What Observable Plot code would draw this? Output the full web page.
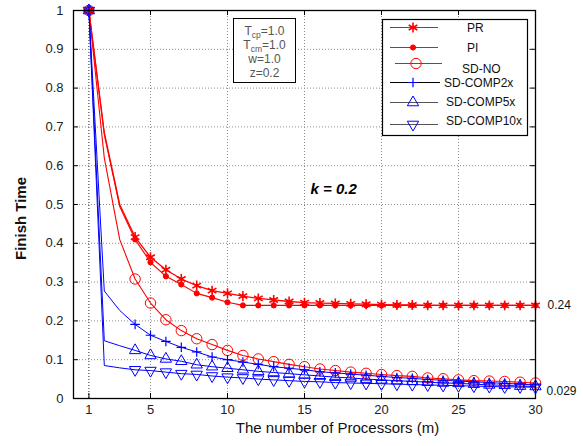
<!DOCTYPE html>
<html><head><meta charset="utf-8">
<script src="https://cdn.jsdelivr.net/npm/d3@7"></script>
<script src="https://cdn.jsdelivr.net/npm/@observablehq/plot@0.6"></script>
<style>body{margin:0;background:#fff} svg{display:block}</style>
</head><body><div id="chart"></div>
<script>
// ---- data ----
const processors = [1,2,3,4,5,6,7,8,9,10,11,12,13,14,15,16,17,18,19,20,21,22,23,24,25,26,27,28,29,30];
const seriesNames = ["PR","PI","SD-NO","SD-COMP2x","SD-COMP5x","SD-COMP10x"];
const PR    = [1.0,0.685,0.50,0.416,0.364,0.332,0.308,0.291,0.278,0.271,0.264,0.258,0.254,0.250,0.247,0.246,0.245,0.244,0.243,0.242,0.241,0.241,0.240,0.240,0.240,0.240,0.240,0.240,0.240,0.240];
const PI    = [1.0,0.68,0.495,0.41,0.351,0.315,0.294,0.271,0.26,0.248,0.240,0.240,0.240,0.240,0.240,0.240,0.240,0.240,0.240,0.240,0.240,0.240,0.240,0.240,0.240,0.240,0.240,0.240,0.240,0.240];
const SDNO  = [1.0,0.62,0.41,0.308,0.246,0.203,0.175,0.154,0.139,0.124,0.111,0.102,0.095,0.088,0.082,0.076,0.072,0.068,0.065,0.062,0.059,0.057,0.053,0.051,0.048,0.046,0.045,0.044,0.042,0.040];
const SDC2  = [1.0,0.277,0.227,0.191,0.163,0.147,0.132,0.12,0.107,0.1,0.094,0.088,0.082,0.078,0.074,0.069,0.066,0.063,0.06,0.057,0.054,0.052,0.049,0.047,0.045,0.043,0.041,0.039,0.037,0.035];
const SDC5  = [1.0,0.149,0.136,0.124,0.111,0.102,0.096,0.087,0.082,0.078,0.074,0.07,0.067,0.064,0.061,0.058,0.055,0.053,0.05,0.048,0.046,0.044,0.042,0.04,0.039,0.037,0.035,0.034,0.032,0.031];
const SDC10 = [1.0,0.085,0.079,0.074,0.072,0.068,0.064,0.062,0.058,0.055,0.053,0.05,0.048,0.046,0.044,0.043,0.041,0.040,0.039,0.038,0.037,0.036,0.035,0.034,0.033,0.032,0.031,0.030,0.030,0.029];
const seriesValues = [PR, PI, SDNO, SDC2, SDC5, SDC10];
const xTicks = [1,5,10,15,20,25,30];
const yTicks = [0,0.1,0.2,0.3,0.4,0.5,0.6,0.7,0.8,0.9,1];
const xLabel = "The number of Processors (m)";
const yLabel = "Finish Time";
const kLabel = "k = 0.2";
const paramLines = [["T","cp","=1.0"],["T","cm","=1.0"],["w","","=1.0"],["z","","=0.2"]];
const endLabelPI = "0.24";
const endLabelC10 = "0.029";

// ---- styles ----
const RED = "#ff0000", BLUE = "#0000ff";
const styles = {
  "PR":        {color: RED,  symbol: "asterisk", r: 4.7, fill: "none", sw: 1.6, lw: 1.3},
  "PI":        {color: RED,  symbol: "circle",   r: 2.6, fill: RED,    sw: 1,   lw: 1.1},
  "SD-NO":     {color: RED,  symbol: "circle",   r: 5.2, fill: "none", sw: 1,   lw: 1.1},
  "SD-COMP2x": {color: BLUE, symbol: "plus",     r: 3.2, fill: "none", sw: 1.2, lw: 1},
  "SD-COMP5x": {color: BLUE, symbol: "triangle", r: 4.2, fill: "none", sw: 1,   lw: 1},
  "SD-COMP10x":{color: BLUE, symbol: "triangle", r: 4.2, fill: "none", sw: 1,   lw: 1, rotate: 180}
};

const rows = [];
seriesNames.forEach((s, i) => processors.forEach((m, j) => rows.push({s, m, v: seriesValues[i][j]})));

const W = 583, H = 446, ML = 73, MR = 48, MT = 10, MB = 48;
const FONT = "'Liberation Sans', Arial, Helvetica, sans-serif";

const marks = [
  Plot.gridX(xTicks.filter(d => d !== 1 && d !== 30), {stroke: "#8a8a8a", strokeOpacity: 1, strokeDasharray: "1,2"}),
  Plot.gridX([1], {stroke: "#222", strokeOpacity: 1, strokeDasharray: "1,2"}),
  Plot.gridY(yTicks.filter(d => d > 0 && d < 1), {stroke: "#8a8a8a", strokeOpacity: 1, strokeDasharray: "1,2"}),
  // inward ticks
  Plot.ruleX(xTicks, {y1: 0, y2: 0.013, stroke: "black"}),
  Plot.ruleX(xTicks, {y1: 1, y2: 0.987, stroke: "black"}),
  Plot.ruleY(yTicks, {x1: 0, x2: 0.32, stroke: "black"}),
  Plot.ruleY(yTicks, {x1: 30, x2: 29.68, stroke: "black"}),
];
seriesNames.forEach(s => {
  const st = styles[s];
  const data = rows.filter(d => d.s === s);
  marks.push(Plot.line(data, {x: "m", y: "v", stroke: st.color, strokeWidth: st.lw}));
});
seriesNames.forEach(s => {
  const st = styles[s];
  const data = rows.filter(d => d.s === s && (d.m === 1 || d.m >= 4));
  const opts = {x: "m", y: "v", symbol: st.symbol, r: st.r, stroke: st.color, fill: st.fill, strokeWidth: st.sw};
  if (st.rotate) opts.rotate = st.rotate;
  marks.push(Plot.dot(data, opts));
  if (s === "PR") marks.push(Plot.dot(data, {x: "m", y: "v", r: 1.8, fill: RED}));
});
const lastPI = rows.filter(d => d.s === "PI" && d.m === 30);
const lastC10 = rows.filter(d => d.s === "SD-COMP10x" && d.m === 30);
marks.push(
  Plot.frame({stroke: "black", strokeWidth: 1.3}),
  Plot.axisX(xTicks, {tickSize: 0, tickPadding: 6, label: null, fontSize: 13, fill: "#222"}),
  Plot.axisY(yTicks, {tickSize: 0, tickPadding: 10, label: null, fontSize: 13, fill: "#222", tickFormat: d => String(d)}),
  Plot.text([xLabel], {frameAnchor: "bottom", dx: 33, dy: 34, fontSize: 15, fill: "#111"}),
  Plot.text([yLabel], {frameAnchor: "left", textAnchor: "middle", dx: -52, dy: 14, rotate: -90, fontSize: 15, fontWeight: "bold", fill: "#111"}),
  Plot.text([kLabel], {frameAnchor: "top-left", textAnchor: "start", dx: 237, dy: 173, fontSize: 15, fontWeight: "bold", fontStyle: "italic", fill: "#000"}),
  Plot.text(lastPI, {x: "m", y: "v", text: () => endLabelPI, textAnchor: "start", dx: 12, dy: 0, fontSize: 12, fill: "#111", clip: false}),
  Plot.text(lastC10, {x: "m", y: "v", text: () => endLabelC10, textAnchor: "start", dx: 11, dy: 4, fontSize: 12, fill: "#111", clip: false})
);

const chart = Plot.plot({
  width: W, height: H,
  marginLeft: ML, marginRight: MR, marginTop: MT, marginBottom: MB,
  style: {fontFamily: FONT, fontSize: "13px", background: "white", overflow: "visible"},
  x: {domain: [0, 30]},
  y: {domain: [0, 1]},
  marks
});
document.getElementById("chart").appendChild(chart);

// ---- parameter box & legend (annotations) ----
const svg = d3.select(chart);
const pg = svg.append("g").attr("font-family", FONT).attr("text-anchor", "middle");
pg.append("rect").attr("x", 233.5).attr("y", 18.5).attr("width", 62).attr("height", 64)
  .attr("fill", "white").attr("stroke", "black").attr("stroke-width", 1);
paramLines.forEach(([a, sub, b], i) => {
  const t = pg.append("text").attr("x", 264.5).attr("y", 35 + i * 14)
    .attr("font-size", 12).attr("fill", "#555");
  t.append("tspan").text(a);
  if (sub) t.append("tspan").attr("font-size", 8.5).attr("dy", 2.5).text(sub);
  t.append("tspan").attr("dy", sub ? -2.5 : 0).text(b);
});

const lg = svg.append("g").attr("font-family", FONT).attr("text-anchor", "start");
lg.append("rect").attr("x", 382.5).attr("y", 19.5).attr("width", 145).attr("height", 116)
  .attr("fill", "white").attr("stroke", "black").attr("stroke-width", 1.2);
const legendRows = [
  {y: 27.5, x1: 390, x2: 438, mx: 413, tx: 467, ty: 27.5, line: "#555"},
  {y: 47.5, x1: 390, x2: 438, mx: 413, tx: 467, ty: 47.5, line: "#555"},
  {y: 63.5, x1: 395, x2: 442, mx: 416, tx: 462, ty: 68.5, line: "#555"},
  {y: 82.5, x1: 390, x2: 440, mx: 413, tx: 444, ty: 82.5, line: "#000"},
  {y: 102.5, x1: 390, x2: 438, mx: 413, tx: 446, ty: 101.5, line: "#555"},
  {y: 124.5, x1: 390, x2: 438, mx: 413, tx: 446, ty: 120.5, line: "#555"}
];
const symbolTypes = {asterisk: d3.symbolAsterisk, circle: d3.symbolCircle, plus: d3.symbolPlus, triangle: d3.symbolTriangle};
seriesNames.forEach((s, i) => {
  const st = styles[s], r = legendRows[i];
  lg.append("line").attr("x1", r.x1).attr("x2", r.x2).attr("y1", r.y).attr("y2", r.y)
    .attr("stroke", r.line).attr("stroke-width", 1);
  lg.append("path").attr("d", d3.symbol(symbolTypes[st.symbol], st.r * st.r * Math.PI)())
    .attr("transform", `translate(${r.mx},${r.y})` + (st.rotate ? ` rotate(${st.rotate})` : ""))
    .attr("fill", st.fill).attr("stroke", st.color).attr("stroke-width", st.sw);
  if (s === "PR") lg.append("circle").attr("cx", r.mx).attr("cy", r.y).attr("r", 1.8).attr("fill", RED);
  lg.append("text").attr("x", r.tx).attr("y", r.ty).attr("dy", "0.35em").attr("text-anchor", "start")
    .attr("font-size", 12).attr("fill", "#111").text(s);
});
</script>
</body></html>
